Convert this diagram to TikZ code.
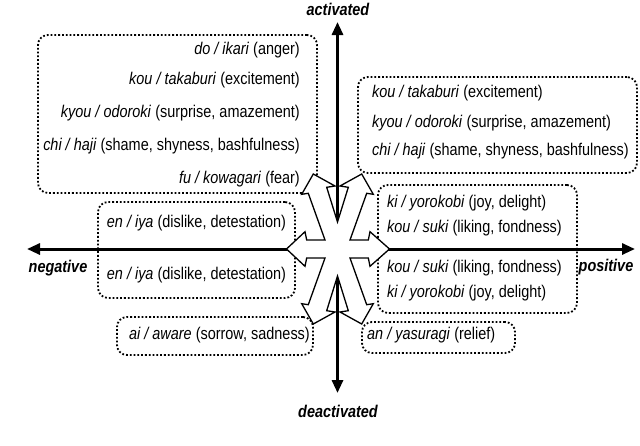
\documentclass[tikz,border=0pt]{standalone}
\usepackage{fontspec}
\setmainfont{Liberation Sans}
\usetikzlibrary{arrows.meta}
\newcommand{\sqz}[1]{\scalebox{0.85}[1]{#1}}
\begin{document}
\begin{tikzpicture}[x=1pt,y=-1pt,
  dotbox/.style={draw, line width=1.8pt, dash pattern=on 1.8pt off 2pt, rounded corners=10pt, inner sep=0pt},
  lbl/.style={font=\fontsize{17}{20}\selectfont, inner sep=0pt},
  axislbl/.style={font=\fontsize{17}{20}\selectfont\bfseries\itshape, inner sep=0pt},
  axisline/.style={line width=3pt, -{Triangle[length=13pt,width=11pt]}},
  starshape/.style={draw, line width=1.3pt, fill=white, line join=miter}]
\useasboundingbox (0,0) rectangle (640,445);

% dotted boxes
\node[dotbox, minimum width=279pt, minimum height=158pt] (b1) at (177.5,114) {};
\node[dotbox, minimum width=279pt, minimum height=96pt] (b2) at (497.5,125) {};
\node[dotbox, minimum width=197pt, minimum height=96pt] (b3) at (196.5,250) {};
\node[dotbox, minimum width=196pt, minimum height=38pt] (b4) at (215,336) {};
\node[dotbox, minimum width=199pt, minimum height=128pt] (b5) at (477.5,249) {};
\node[dotbox, minimum width=153pt, minimum height=31pt] (b6) at (438.5,337.5) {};

% texts of box 1
\node[lbl, anchor=mid east] (t11) at (300,52) {\sqz{\textit{do / ikari} (anger)}};
\node[lbl, anchor=mid east] (t12) at (300,82) {\sqz{\textit{kou / takaburi} (excitement)}};
\node[lbl, anchor=mid east] (t13) at (300,115) {\sqz{\textit{kyou / odoroki} (surprise, amazement)}};
\node[lbl, anchor=mid east] (t14) at (300,148) {\sqz{\textit{chi / haji} (shame, shyness, bashfulness)}};
\node[lbl, anchor=mid east] (t15) at (300,181) {\sqz{\textit{fu / kowagari} (fear)}};
% box 2
\node[lbl, anchor=mid west] (t21) at (372,95) {\sqz{\textit{kou / takaburi} (excitement)}};
\node[lbl, anchor=mid west] (t22) at (372,125) {\sqz{\textit{kyou / odoroki} (surprise, amazement)}};
\node[lbl, anchor=mid west] (t23) at (372,153) {\sqz{\textit{chi / haji} (shame, shyness, bashfulness)}};
% box 3
\node[lbl, anchor=mid] (t31) at (196.5,225) {\sqz{\textit{en / iya} (dislike, detestation)}};
\node[lbl, anchor=mid] (t32) at (196.5,277) {\sqz{\textit{en / iya} (dislike, detestation)}};
% box 4
\node[lbl, anchor=mid east] (t41) at (310,337) {\sqz{\textit{ai / aware} (sorrow, sadness)}};
% box 5
\node[lbl, anchor=mid west] (t51) at (387,205) {\sqz{\textit{ki / yorokobi} (joy, delight)}};
\node[lbl, anchor=mid west] (t52) at (387,230) {\sqz{\textit{kou / suki} (liking, fondness)}};
\node[lbl, anchor=mid west] (t53) at (387,270) {\sqz{\textit{kou / suki} (liking, fondness)}};
\node[lbl, anchor=mid west] (t54) at (387,295) {\sqz{\textit{ki / yorokobi} (joy, delight)}};
% box 6
\node[lbl, anchor=mid west] (t61) at (367,337) {\sqz{\textit{an / yasuragi} (relief)}};

% axes
\coordinate (c) at (337.5,249);
\coordinate (vt) at (337.5,22);
\coordinate (vb) at (337.5,393);
\coordinate (hl) at (27,249);
\coordinate (hr) at (635,249);
\draw[axisline] (c) -- (vt);
\draw[axisline] (c) -- (vb);
\draw[axisline] (c) -- (hl);
\draw[axisline] (c) -- (hr);

\node[axislbl] (act) at (338,9) {\sqz{activated}};
\node[axislbl] (deact) at (338,411) {\sqz{deactivated}};
\node[axislbl] (neg) at (58,268) {\sqz{negative}};
\node[axislbl] (pos) at (606,267) {\sqz{positive}};

% star of open arrows
\begin{scope}[shift={(c)}]
\draw[starshape]
 (-51,0) -- (-32.5,-17.3) -- (-30.8,-9) -- (-12.5,-9) -- (-29.2,-55.7) -- (-35.8,-54.7) --
 (-24.2,-75) -- (-2.5,-63) -- (-10.8,-61.7) -- (0,-27) --
 (10.8,-61.7) -- (2.5,-63) -- (24.2,-75) -- (35.8,-54.7) -- (29.2,-55.7) -- (12.5,-9) --
 (30.8,-9) -- (32.5,-17.3) -- (52,0) --
 (32.5,17.3) -- (30.8,9) -- (12.5,9) -- (29.2,55.7) -- (35.8,54.7) -- (24.2,75) --
 (2.5,63) -- (10.8,61.7) -- (0,27) --
 (-10.8,61.7) -- (-2.5,63) -- (-24.2,75) -- (-35.8,54.7) -- (-29.2,55.7) -- (-12.5,9) --
 (-30.8,9) -- (-32.5,17.3) -- cycle;
\end{scope}
\end{tikzpicture}
\end{document}
